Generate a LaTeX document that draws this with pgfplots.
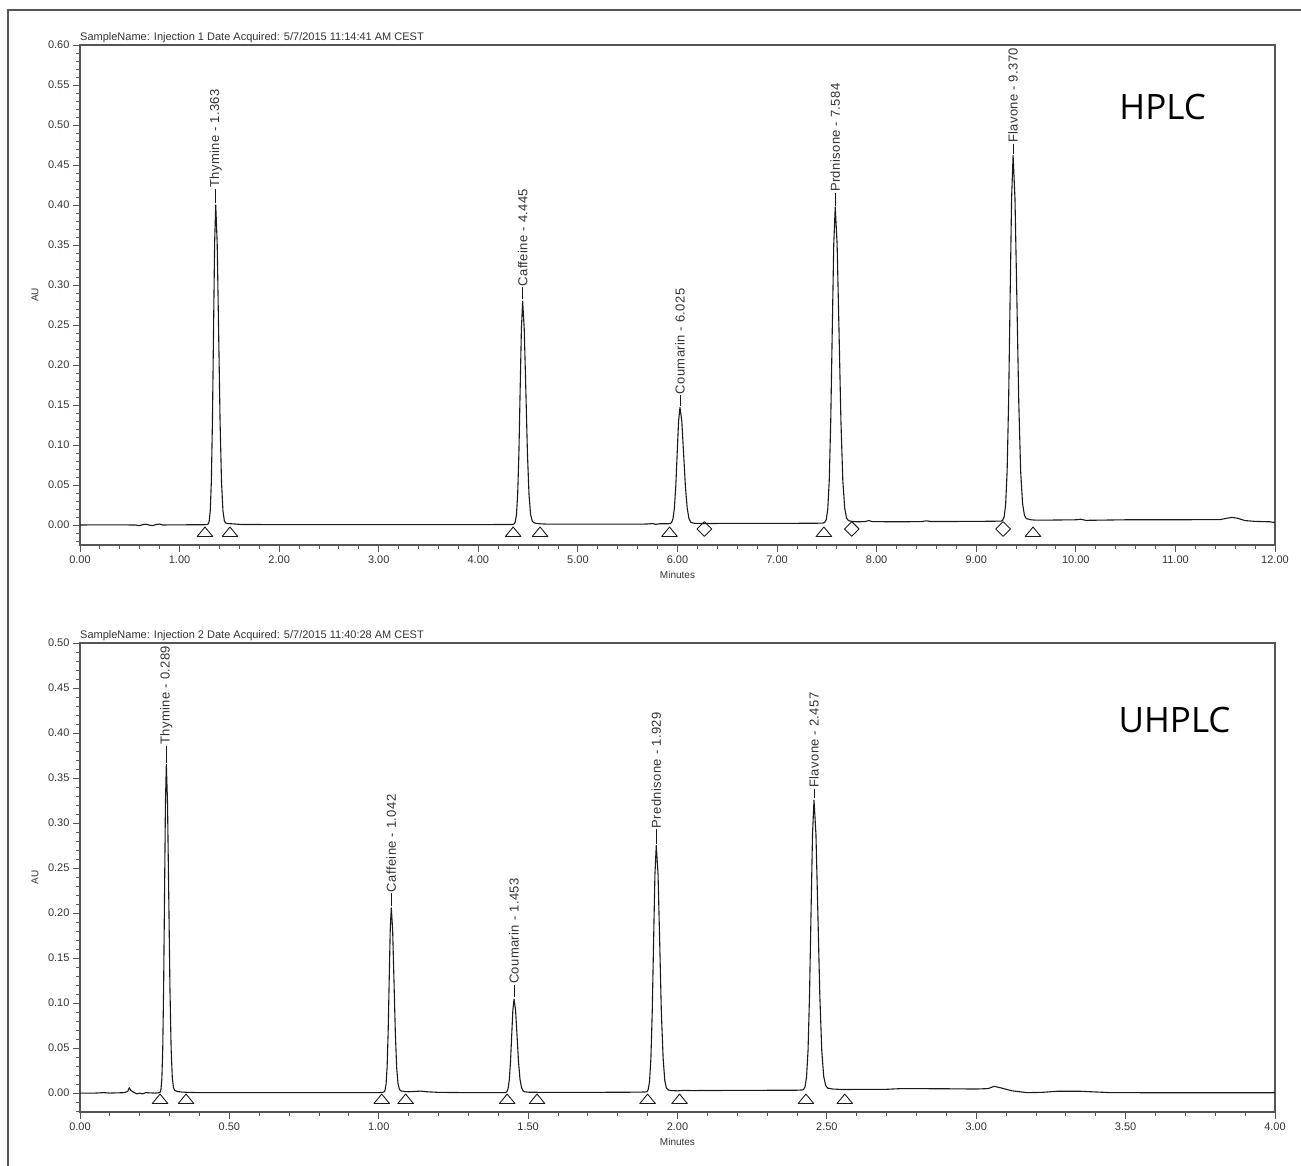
\documentclass[border=0pt]{standalone}
\usepackage{fontspec}
\setmainfont{Liberation Sans}
\newfontfamily\bigfont{Open Sans}
\newfontfamily\pkfam[LetterSpace=3]{Liberation Sans}
\usepackage{pgfplots}
\pgfplotsset{compat=1.18}
\definecolor{axcol}{HTML}{555555}
\definecolor{txtcol}{HTML}{333333}
\definecolor{trace}{HTML}{1A1A1A}
\newcommand{\tickfont}{\fontsize{11}{13}\selectfont}
\newcommand{\pkfont}{\pkfam\fontsize{13}{15}\selectfont}
\newcommand{\plab}[4]{%
  \draw[trace, line width=0.8pt] (axis cs:#1,#2) -- (axis cs:#1,#3);
  \node[rotate=90, anchor=west, inner sep=1pt, font=\pkfont, text=txtcol] at (axis cs:#1,#3) {#4};}
\pgfplotsset{chrom/.style={
  scale only axis, anchor=south west, width=1195pt, clip=false,
  axis line style={axcol, line width=1.3pt},
  tick style={axcol, line width=0.9pt},
  tick align=outside, tick pos=left,
  major tick length=7pt, minor tick length=4pt,
  ticklabel style={font=\tickfont, text=txtcol},
  xticklabel style={yshift=0pt},
  /pgf/number format/.cd, fixed, fixed zerofill, precision=2, assume math mode=true, /pgfplots/.cd,
  every axis plot/.append style={line join=round},
}}
\begin{document}
\begin{tikzpicture}
\useasboundingbox (0,0) rectangle (1301pt,1166pt);
\draw[line width=2.2pt, color=axcol] (8pt,-20pt) -- (8pt,1156pt) -- (1330pt,1156pt);

% ---------------- HPLC ----------------
\begin{axis}[chrom, at={(80pt,621pt)}, height=500pt,
  xmin=0, xmax=12, ymin=-0.025, ymax=0.60,
  xtick={0,1,2,3,4,5,6,7,8,9,10,11,12},
  minor xtick={0,0.2,...,12},
  ytick={0,0.05,0.10,0.15,0.20,0.25,0.30,0.35,0.40,0.45,0.50,0.55,0.60},
  minor ytick={-0.02,-0.01,...,0.6}]
\addplot[trace, line width=1.1pt] coordinates {
(0,0) (0.3,0.0002) (0.55,0.0) (0.6,-0.0008) (0.63,0.0005) (0.66,0.001) (0.7,-0.0003) (0.73,-0.0008) (0.76,0.0004) (0.8,0.0012) (0.83,0.0) (1.0,0.0002) (1.2,0.0003) (1.27,0.0004)
(1.286,0.001) (1.297,0.0044) (1.308,0.0176) (1.319,0.054) (1.330,0.130) (1.341,0.243) (1.352,0.353) (1.363,0.400) (1.3775,0.353) (1.392,0.243) (1.4065,0.130) (1.421,0.054) (1.4355,0.0176) (1.450,0.0050) (1.4645,0.0025) (1.48,0.0018) (1.52,0.0015) (1.56,0.0012) (1.62,0.0006)
(2.0,0.0005) (3.0,0.0005) (4.0,0.0005) (4.34,0.0006)
(4.3575,0.0012) (4.370,0.0035) (4.3825,0.0125) (4.395,0.038) (4.4075,0.090) (4.420,0.169) (4.4325,0.245) (4.445,0.280) (4.461,0.245) (4.477,0.169) (4.493,0.090) (4.509,0.038) (4.525,0.013) (4.541,0.005) (4.557,0.003) (4.58,0.002) (4.62,0.0015) (4.7,0.001)
(5.0,0.001) (5.5,0.001) (5.7,0.0012) (5.75,0.0018) (5.78,0.0008) (5.82,0.0015) (5.90,0.0015)
(5.927,0.0018) (5.941,0.0031) (5.955,0.0079) (5.969,0.0212) (5.983,0.049) (5.997,0.090) (6.011,0.130) (6.025,0.147) (6.043,0.130) (6.061,0.090) (6.079,0.049) (6.097,0.0215) (6.115,0.008) (6.133,0.0035) (6.151,0.0025) (6.18,0.002) (6.25,0.0018)
(6.5,0.002) (7.0,0.002) (7.4,0.0022) (7.46,0.0024)
(7.479,0.0033) (7.494,0.0068) (7.509,0.0199) (7.524,0.0558) (7.539,0.1305) (7.554,0.2425) (7.569,0.3505) (7.584,0.3975) (7.603,0.3505) (7.622,0.2425) (7.641,0.1305) (7.660,0.0558) (7.679,0.0210) (7.698,0.0085) (7.717,0.0055) (7.75,0.0045) (7.8,0.004)
(7.88,0.0042) (7.92,0.0055) (7.96,0.0042) (8.2,0.004) (8.45,0.0042) (8.5,0.0052) (8.55,0.0043) (9.0,0.0045) (9.25,0.0048)
(9.265,0.0059) (9.280,0.0100) (9.295,0.0251) (9.310,0.0667) (9.325,0.1535) (9.340,0.2824) (9.355,0.408) (9.370,0.462) (9.389,0.408) (9.408,0.2824) (9.427,0.1535) (9.446,0.0667) (9.465,0.0270) (9.484,0.012) (9.503,0.008) (9.55,0.0065) (9.6,0.006)
(9.8,0.0062) (10.0,0.0065) (10.05,0.0072) (10.1,0.0058) (10.5,0.0065) (11.0,0.0065) (11.45,0.0068) (11.52,0.0085) (11.57,0.0095) (11.62,0.0085) (11.7,0.0055) (11.8,0.0045) (11.95,0.004) (12.0,0.003)
};
\addplot[only marks, mark=triangle, mark size=9pt, mark options={yscale=0.7, draw=trace, line width=0.9pt, fill=none}] coordinates {
(1.255,-0.0104) (1.506,-0.0104) (4.35,-0.0104) (4.62,-0.0104) (5.92,-0.0104) (7.47,-0.0104) (9.57,-0.0104)};
\addplot[only marks, mark=square, mark size=5.2pt, mark options={rotate=45, draw=trace, line width=0.9pt, fill=none}] coordinates {
(6.27,-0.005) (7.75,-0.005) (9.27,-0.005)};
\plab{1.363}{0.402}{0.420}{Thymine - 1.363}
\plab{4.445}{0.282}{0.297}{Caffeine - 4.445}
\plab{6.025}{0.149}{0.162}{Coumarin - 6.025}
\plab{7.584}{0.399}{0.415}{Prdnisone - 7.584}
\plab{9.370}{0.464}{0.476}{Flavone - 9.370}
\node[anchor=base west, inner sep=0pt, font=\tickfont, text=txtcol] at (rel axis cs:0,1) [yshift=4pt] {SampleName: Injection 1 Date Acquired: 5/7/2015 11:14:41 AM CEST};
\node[font=\fontsize{10}{12}\selectfont, text=txtcol] at (rel axis cs:0.5,-0.06) {Minutes};
\node[rotate=90, font=\fontsize{10}{12}\selectfont, text=txtcol] at (rel axis cs:-0.0377,0.5) {AU};
\node[font=\bigfont\fontsize{35}{40}\selectfont, text=black] at (rel axis cs:0.906,0.876) {HPLC};
\end{axis}

% ---------------- UHPLC ----------------
\begin{axis}[chrom, at={(80pt,54pt)}, height=469pt,
  xmin=0, xmax=4, ymin=-0.021, ymax=0.50,
  xtick={0,0.5,1,1.5,2,2.5,3,3.5,4},
  minor xtick={0,0.1,...,4},
  ytick={0,0.05,0.10,0.15,0.20,0.25,0.30,0.35,0.40,0.45,0.50},
  minor ytick={-0.02,-0.01,...,0.5}]
\addplot[trace, line width=1.1pt] coordinates {
(0,0) (0.05,0.0) (0.08,0.0005) (0.10,0.0) (0.15,0.0005) (0.16,0.002) (0.165,0.006) (0.17,0.003) (0.18,0.0008) (0.19,-0.0008) (0.2,0.0) (0.21,-0.0008) (0.22,0.0005) (0.25,0.0) (0.262,0.0003)
(0.268,0.0007) (0.271,0.0040) (0.274,0.0161) (0.277,0.0493) (0.280,0.1186) (0.283,0.2215) (0.286,0.322) (0.289,0.365) (0.293,0.322) (0.297,0.2215) (0.301,0.1186) (0.305,0.0493) (0.309,0.0170) (0.313,0.0060) (0.317,0.0030) (0.325,0.0018) (0.34,0.0012) (0.36,0.0008) (0.4,0.0005)
(0.6,0.0005) (0.8,0.0005) (1.0,0.0006) (1.012,0.0008)
(1.0175,0.0012) (1.021,0.0031) (1.0245,0.0098) (1.028,0.0285) (1.0315,0.0674) (1.035,0.1252) (1.0385,0.1816) (1.042,0.2058) (1.0465,0.1816) (1.051,0.1252) (1.0555,0.0674) (1.060,0.0285) (1.0645,0.0105) (1.069,0.0045) (1.0735,0.0025) (1.085,0.0018) (1.1,0.0015) (1.12,0.0018) (1.14,0.0022) (1.16,0.0015) (1.2,0.0008)
(1.3,0.0005) (1.42,0.0005)
(1.425,0.0007) (1.429,0.0016) (1.433,0.0051) (1.437,0.0145) (1.441,0.0343) (1.445,0.0636) (1.449,0.0922) (1.453,0.1045) (1.458,0.0922) (1.463,0.0636) (1.468,0.0343) (1.473,0.0150) (1.478,0.0060) (1.483,0.0025) (1.488,0.0015) (1.5,0.001) (1.55,0.0008)
(1.7,0.0008) (1.85,0.001) (1.89,0.0012)
(1.8975,0.0015) (1.902,0.0040) (1.9065,0.0131) (1.911,0.0380) (1.9155,0.0901) (1.920,0.1673) (1.9245,0.2427) (1.929,0.2750) (1.935,0.2427) (1.9405,0.1673) (1.946,0.0901) (1.952,0.0385) (1.9575,0.0140) (1.963,0.0055) (1.969,0.0035) (1.98,0.0028) (2.0,0.0025) (2.02,0.003) (2.05,0.0028)
(2.2,0.003) (2.4,0.0032) (2.418,0.0035)
(2.422,0.0041) (2.427,0.0070) (2.432,0.0177) (2.437,0.0470) (2.442,0.1082) (2.447,0.1990) (2.452,0.2875) (2.457,0.3255) (2.4635,0.2875) (2.470,0.1990) (2.4765,0.1082) (2.483,0.0470) (2.4895,0.0185) (2.496,0.0085) (2.5025,0.0055) (2.52,0.0045) (2.55,0.004)
(2.7,0.0042) (2.75,0.005) (2.9,0.0048) (3.0,0.0045) (3.04,0.005) (3.06,0.0075) (3.08,0.006) (3.12,0.0025) (3.17,0.0005) (3.22,0.0008) (3.27,0.002) (3.35,0.002) (3.45,0.0005) (3.6,0.0004) (4.0,0.0004)
};
\addplot[only marks, mark=triangle, mark size=9pt, mark options={yscale=0.7, draw=trace, line width=0.9pt, fill=none}] coordinates {
(0.268,-0.0081) (0.355,-0.0081) (1.01,-0.0081) (1.09,-0.0081) (1.43,-0.0081) (1.53,-0.0081) (1.90,-0.0081) (2.007,-0.0081) (2.43,-0.0081) (2.56,-0.0081)};
\plab{0.289}{0.367}{0.386}{Thymine - 0.289}
\plab{1.042}{0.208}{0.222}{Caffeine - 1.042}
\plab{1.453}{0.107}{0.120}{Coumarin - 1.453}
\plab{1.929}{0.277}{0.293}{Prednisone - 1.929}
\plab{2.457}{0.328}{0.338}{Flavone - 2.457}
\node[anchor=base west, inner sep=0pt, font=\tickfont, text=txtcol] at (rel axis cs:0,1) [yshift=4pt] {SampleName: Injection 2 Date Acquired: 5/7/2015 11:40:28 AM CEST};
\node[font=\fontsize{10}{12}\selectfont, text=txtcol] at (rel axis cs:0.5,-0.064) {Minutes};
\node[rotate=90, font=\fontsize{10}{12}\selectfont, text=txtcol] at (rel axis cs:-0.0377,0.5) {AU};
\node[font=\bigfont\fontsize{35}{40}\selectfont, text=black] at (rel axis cs:0.916,0.836) {UHPLC};
\end{axis}
\end{tikzpicture}
\end{document}
